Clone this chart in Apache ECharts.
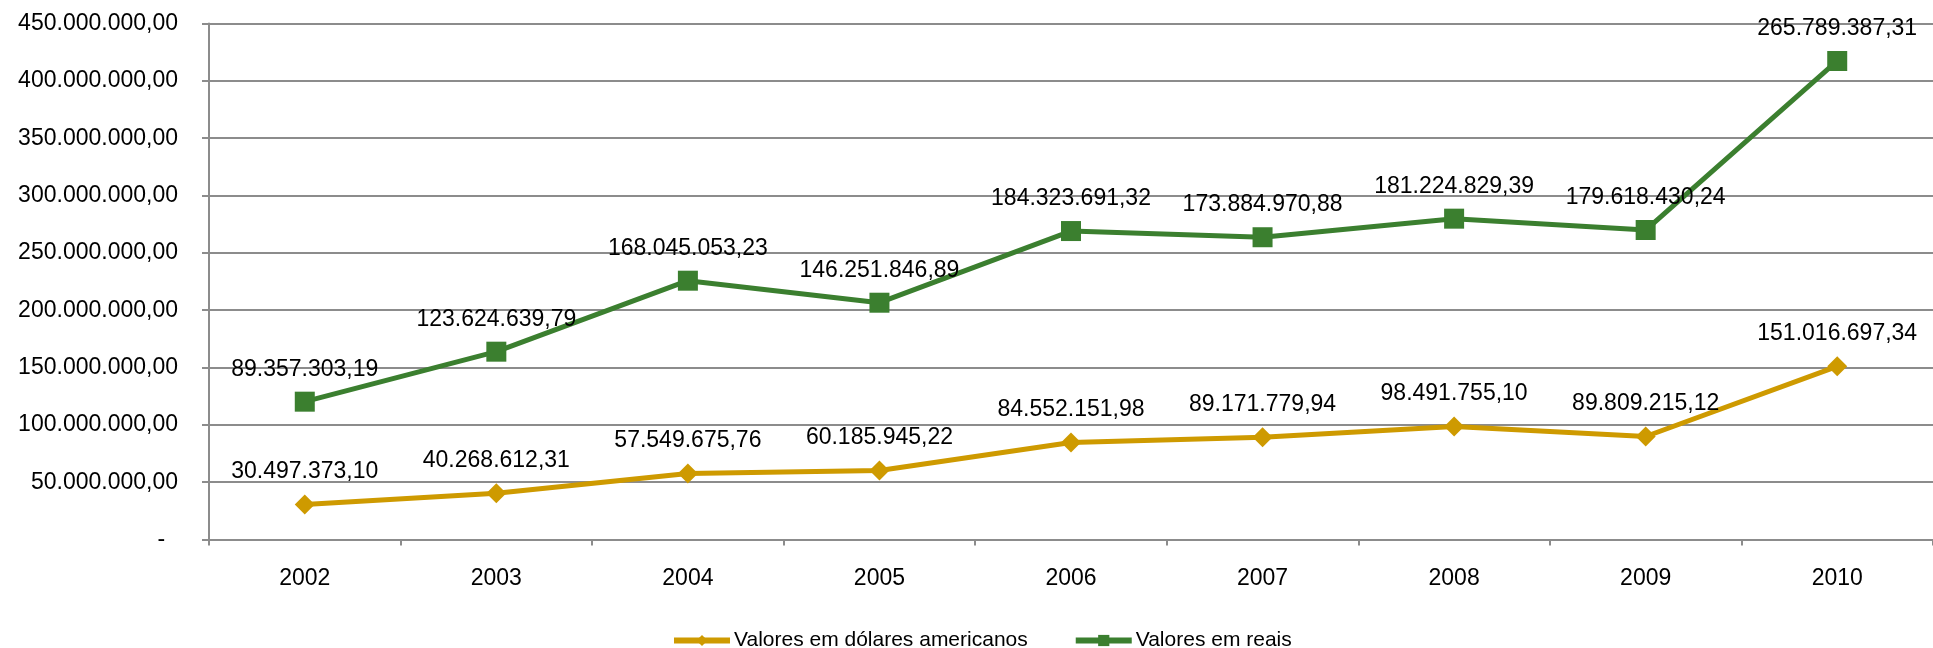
<!DOCTYPE html>
<html>
<head>
<meta charset="utf-8">
<script src="https://cdn.jsdelivr.net/npm/echarts@6/dist/echarts.min.js"></script>
<style>
  html, body { margin: 0; padding: 0; background: #ffffff; }
  #chart { width: 1933px; height: 648px; }
</style>
</head>
<body>
<div id="chart"></div>
<script>
// Years on the category axis
const years = ['2002', '2003', '2004', '2005', '2006', '2007', '2008', '2009', '2010'];

// Amounts in US dollars
const dollarValues = [30497373.10, 40268612.31, 57549675.76, 60185945.22, 84552151.98,
                      89171779.94, 98491755.10, 89809215.12, 151016697.34];

// Amounts in reais (plotted line)
const reaisValues = [120200000, 163800000, 225700000, 206500000, 269000000,
                     263600000, 279800000, 269900000, 417300000];

// Figures printed above the reais line
const reaisLabels = [89357303.19, 123624639.79, 168045053.23, 146251846.89, 184323691.32,
                     173884970.88, 181224829.39, 179618430.24, 265789387.31];

// Value axis ticks
const yMin = 0, yMax = 450000000, yStep = 50000000;

const seriesNames = ['Valores em dólares americanos', 'Valores em reais'];

// Brazilian number format: 1.234.567,89
function fmtBR(v) {
  const parts = Number(v).toFixed(2).split('.');
  const intPart = parts[0].replace(/\B(?=(\d{3})+(?!\d))/g, '.');
  return intPart + ',' + parts[1];
}

const FONT = "'Liberation Sans', Arial, sans-serif";
const GRID_GRAY = '#8c8c8c';
const GOLD = '#CE9A00';
const GREEN = '#3B7F2F';

const chart = echarts.init(document.getElementById('chart'), null, { renderer: 'canvas' });

chart.setOption({
  backgroundColor: '#ffffff',
  animation: false,
  grid: { left: 209, right: -10, top: 23.5, bottom: 108.5, containLabel: false },
  legend: {
    data: seriesNames,
    left: 666,
    top: 625,
    itemWidth: 56,
    itemHeight: 14,
    itemGap: 45,
    lineStyle: { width: 6 },
    textStyle: { fontFamily: FONT, fontSize: 21, color: '#000000', padding: [0, 0, 0, -1] }
  },
  xAxis: {
    type: 'category',
    data: years,
    boundaryGap: true,
    axisLine: { show: true, lineStyle: { color: GRID_GRAY, width: 2 } },
    axisTick: { show: true, length: 6, lineStyle: { color: GRID_GRAY, width: 2 } },
    axisLabel: { margin: 28, fontFamily: FONT, fontSize: 23, color: '#000000' },
    splitLine: { show: false }
  },
  yAxis: {
    type: 'value',
    min: yMin,
    max: yMax,
    interval: yStep,
    axisLine: { show: true, lineStyle: { color: GRID_GRAY, width: 2 } },
    axisTick: { show: true, length: 7, lineStyle: { color: GRID_GRAY, width: 2 } },
    axisLabel: {
      margin: 31,
      fontFamily: FONT,
      fontSize: 23,
      color: '#000000',
      formatter: v => (v === 0 ? '-  ' : fmtBR(v))
    },
    splitLine: { show: true, lineStyle: { color: GRID_GRAY, width: 2 } }
  },
  series: [
    {
      name: seriesNames[0],
      type: 'line',
      data: dollarValues,
      symbol: 'diamond',
      symbolSize: 20,
      color: GOLD,
      lineStyle: { width: 5, color: GOLD },
      itemStyle: { color: GOLD },
      label: {
        show: true,
        position: 'top',
        distance: 11,
        fontFamily: FONT,
        fontSize: 23,
        color: '#000000',
        formatter: p => fmtBR(p.value)
      },
      z: 3
    },
    {
      name: seriesNames[1],
      type: 'line',
      data: reaisValues,
      symbol: 'rect',
      symbolSize: 20,
      color: GREEN,
      lineStyle: { width: 5, color: GREEN },
      itemStyle: { color: GREEN },
      label: {
        show: true,
        position: 'top',
        distance: 11,
        fontFamily: FONT,
        fontSize: 23,
        color: '#000000',
        formatter: p => fmtBR(reaisLabels[p.dataIndex])
      },
      z: 3
    }
  ]
});
</script>
</body>
</html>
